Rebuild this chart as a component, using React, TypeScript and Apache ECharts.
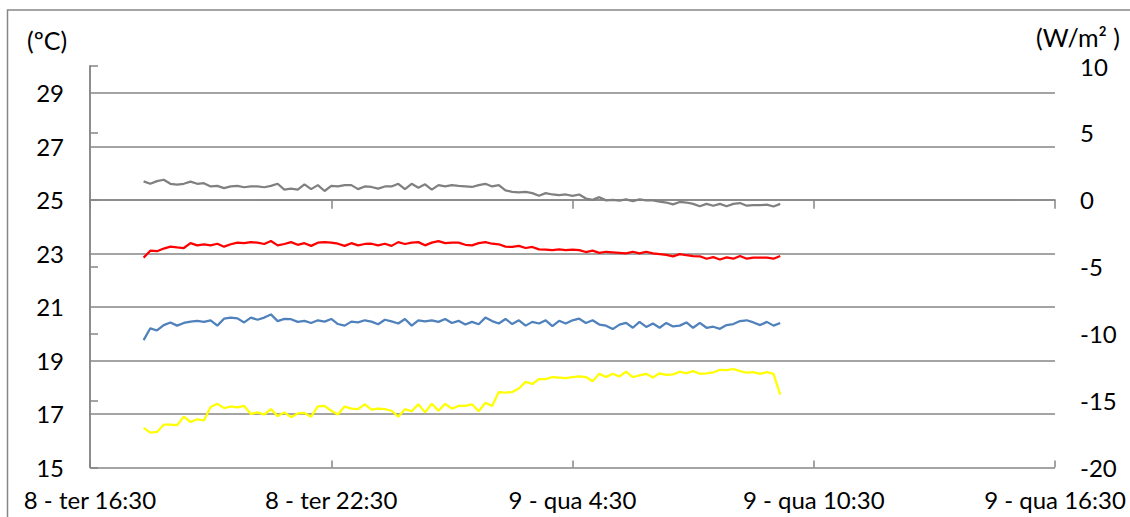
import React, { useEffect, useRef } from "react";
import * as echarts from "echarts";

// Time axis: minutes counted from 16:30 on day 8, one tick every 6 hours
const X_TICK_LABELS = [
  "8 - ter 16:30",
  "8 - ter 22:30",
  "9 - qua 4:30",
  "9 - qua 10:30",
  "9 - qua 16:30",
];
const AXIS_START = "16:30";
const FIRST_SAMPLE = "17:50";
const STEP_MIN = 10;

// Temperatures (ºC), left axis
const greyTemp = [
  25.69, 25.6, 25.7, 25.75, 25.6, 25.57, 25.6, 25.68, 25.6, 25.62,
  25.5, 25.52, 25.44, 25.5, 25.52, 25.47, 25.5, 25.5, 25.47, 25.52,
  25.6, 25.38, 25.42, 25.38, 25.58, 25.4, 25.55, 25.33, 25.52, 25.5,
  25.55, 25.55, 25.4, 25.5, 25.48, 25.42, 25.5, 25.5, 25.6, 25.4,
  25.6, 25.45, 25.58, 25.38, 25.55, 25.5, 25.55, 25.52,
  25.5, 25.48, 25.55, 25.6, 25.5, 25.55, 25.35, 25.3, 25.28, 25.3,
  25.25, 25.15, 25.25, 25.2, 25.18, 25.2, 25.15, 25.2, 25.05, 25.0,
  25.1, 24.98, 25.0, 24.97, 25.02, 24.95, 25.02, 24.98, 24.98, 24.93,
  24.9, 24.83, 24.92, 24.9, 24.85, 24.76, 24.85, 24.78, 24.85, 24.76,
  24.85, 24.88, 24.78, 24.8, 24.8, 24.82, 24.75, 24.85,
];

const redTemp = [
  22.84, 23.1, 23.08, 23.18, 23.25, 23.22, 23.2, 23.38, 23.3, 23.34,
  23.3, 23.36, 23.25, 23.34, 23.4, 23.38, 23.42, 23.4, 23.35, 23.46,
  23.3, 23.35, 23.42, 23.32, 23.38, 23.28, 23.4, 23.42, 23.4, 23.36,
  23.28, 23.38, 23.3, 23.35, 23.36, 23.3, 23.36, 23.28, 23.42, 23.35,
  23.4, 23.42, 23.3, 23.4, 23.46, 23.38, 23.4, 23.4,
  23.32, 23.3, 23.38, 23.42, 23.36, 23.34, 23.25, 23.24, 23.28, 23.2,
  23.24, 23.15, 23.14, 23.12, 23.15, 23.12, 23.14, 23.12, 23.05, 23.1,
  23.02, 23.06, 23.04, 23.02, 23.0, 23.06, 23.0, 23.06, 23.0, 22.97,
  22.94, 22.89, 22.97, 22.93, 22.9, 22.89, 22.8, 22.86, 22.77, 22.85,
  22.8, 22.9, 22.8, 22.84, 22.84, 22.84, 22.8, 22.9,
];

const blueTemp = [
  19.76, 20.2, 20.12, 20.32, 20.42, 20.3, 20.4, 20.45, 20.48, 20.44,
  20.5, 20.3, 20.56, 20.6, 20.57, 20.42, 20.6, 20.52, 20.6, 20.72,
  20.47, 20.55, 20.54, 20.44, 20.48, 20.4, 20.5, 20.45, 20.55, 20.36,
  20.3, 20.45, 20.42, 20.5, 20.45, 20.35, 20.52, 20.46, 20.38, 20.55,
  20.3, 20.5, 20.46, 20.5, 20.44, 20.55, 20.4, 20.48,
  20.34, 20.44, 20.35, 20.6, 20.47, 20.38, 20.55, 20.36, 20.5, 20.3,
  20.44, 20.38, 20.5, 20.28, 20.48, 20.38, 20.5, 20.56, 20.4, 20.5,
  20.34, 20.3, 20.17, 20.34, 20.4, 20.22, 20.44, 20.25, 20.38, 20.22,
  20.4, 20.27, 20.3, 20.42, 20.22, 20.4, 20.22, 20.26, 20.18, 20.32,
  20.36, 20.47, 20.5, 20.42, 20.32, 20.44, 20.3, 20.4,
];

// Radiation flux (W/m²), right axis
const yellowFlux = [
  -17.04, -17.4, -17.34, -16.8, -16.8, -16.84, -16.2, -16.6, -16.4, -16.48,
  -15.48, -15.24, -15.56, -15.44, -15.5, -15.4, -16.0, -15.88, -16.04, -15.64,
  -16.16, -15.88, -16.24, -15.96, -15.92, -16.2, -15.44, -15.4, -15.76, -16.04,
  -15.44, -15.6, -15.64, -15.28, -15.68, -15.6, -15.64, -15.76, -16.2, -15.64,
  -15.8, -15.28, -15.88, -15.24, -15.76, -15.24, -15.6, -15.4,
  -15.4, -15.28, -15.8, -15.16, -15.4, -14.36, -14.4, -14.36, -14.1, -13.6,
  -13.76, -13.4, -13.4, -13.24, -13.28, -13.32, -13.24, -13.2, -13.24, -13.56,
  -13.0, -13.24, -13.0, -13.2, -12.84, -13.24, -13.12, -13.0, -13.28, -12.96,
  -13.08, -13.04, -12.84, -12.96, -12.8, -13.0, -12.96, -12.9, -12.7, -12.72,
  -12.64, -12.8, -12.92, -12.88, -13.0, -12.88, -13.0, -14.56,
];

const FONT = "Lato, 'Open Sans', sans-serif";
const AXIS_GREY = "#868686";

function toMinutes(hhmm: string): number {
  const [h, m] = hhmm.split(":").map(Number);
  return h * 60 + m;
}

function withTimes(values: number[]): [number, number][] {
  const offset = toMinutes(FIRST_SAMPLE) - toMinutes(AXIS_START);
  return values.map((v, i) => [offset + i * STEP_MIN, v]);
}

function lineSeries(name: string, values: number[], color: string, yAxisIndex = 0) {
  return {
    name,
    type: "line",
    yAxisIndex,
    data: withTimes(values),
    showSymbol: false,
    symbol: "none",
    lineStyle: { color, width: 2.25 },
    itemStyle: { color },
    z: 3,
  };
}

export default function App() {
  const ref = useRef<HTMLDivElement>(null);

  useEffect(() => {
    if (!ref.current) return;
    const chart = echarts.init(ref.current, undefined, { renderer: "svg" });
    const span = (X_TICK_LABELS.length - 1) * 360;

    chart.setOption({
      animation: false,
      backgroundColor: "#ffffff",
      textStyle: { fontFamily: FONT },
      grid: { left: 90, right: 75, top: 66, bottom: 49.5, containLabel: false },
      xAxis: [
        {
          type: "value",
          min: 0,
          max: span,
          interval: 360,
          axisLine: { show: true, lineStyle: { color: AXIS_GREY, width: 1.5 } },
          axisTick: { show: true, length: 9, lineStyle: { color: AXIS_GREY, width: 1.5 } },
          axisLabel: {
            margin: 20,
            fontSize: 24,
            color: "#000",
            fontFamily: FONT,
            formatter: (v: number) => X_TICK_LABELS[Math.round(v / 360)] ?? "",
          },
          splitLine: { show: false },
        },
        {
          type: "value",
          position: "bottom",
          min: 0,
          max: span,
          interval: 360,
          axisLine: { show: false },
          axisTick: { show: true, inside: true, length: 7, lineStyle: { color: AXIS_GREY, width: 1.5 } },
          axisLabel: { show: false },
          splitLine: { show: false },
        },
      ],
      yAxis: [
        {
          type: "value",
          min: 15,
          max: 30,
          interval: 1,
          axisLine: { show: true, lineStyle: { color: AXIS_GREY, width: 1.5 } },
          axisTick: { show: false },
          axisLabel: {
            margin: 26,
            fontSize: 24,
            color: "#000",
            fontFamily: FONT,
            formatter: (v: number) => (v % 2 === 1 && v < 30 ? String(v) : ""),
          },
          splitLine: {
            show: true,
            lineStyle: { color: [AXIS_GREY, "rgba(0,0,0,0)"], width: 1.5 },
          },
        },
        {
          type: "value",
          position: "right",
          min: -20,
          max: 10,
          interval: 5,
          axisLine: { show: true, lineStyle: { color: AXIS_GREY, width: 1.5 } },
          axisTick: { show: true, length: 8, lineStyle: { color: AXIS_GREY, width: 1.5 } },
          axisLabel: { margin: 25, fontSize: 24, color: "#000", fontFamily: FONT },
          splitLine: { show: false },
        },
      ],
      graphic: [
        {
          type: "rect",
          silent: true,
          shape: { x: 7.5, y: 10, width: 1300, height: 700 },
          style: { fill: "none", stroke: AXIS_GREY, lineWidth: 1.5 },
        },
        {
          type: "text",
          left: 27,
          top: 27,
          style: { text: "(ºC)", fontSize: 25, fill: "#000", fontFamily: FONT },
        },
        {
          type: "text",
          right: 10,
          top: 24,
          style: { text: "(W/m² )", fontSize: 25, fill: "#000", fontFamily: FONT },
        },
      ],
      series: [
        lineSeries("grey", greyTemp, "#808080"),
        lineSeries("red", redTemp, "#ff0000"),
        lineSeries("blue", blueTemp, "#4f81bd"),
        lineSeries("yellow", yellowFlux, "#ffff00", 1),
      ],
    });

    return () => chart.dispose();
  }, []);

  return (
    <div
      ref={ref}
      style={{ position: "absolute", left: 0, top: 0, width: 1130, height: 517 }}
    />
  );
}
